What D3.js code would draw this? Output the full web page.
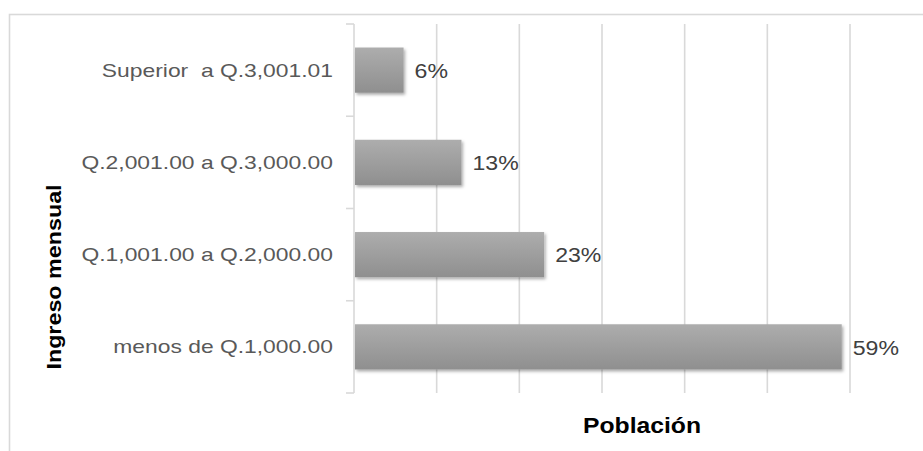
<!DOCTYPE html>
<html>
<head>
<meta charset="utf-8">
<script src="https://cdn.jsdelivr.net/npm/d3@7"></script>
<style>
  html, body { margin: 0; padding: 0; background: #ffffff; }
  svg { display: block; }
  text { font-family: "Liberation Sans", Arial, sans-serif; white-space: pre; }
</style>
</head>
<body>
<svg id="chart" width="923" height="451"></svg>
<script>
// Income brackets, top to bottom, and share of population in each
const categories = [
  "Superior  a Q.3,001.01",
  "Q.2,001.00 a Q.3,000.00",
  "Q.1,001.00 a Q.2,000.00",
  "menos de Q.1,000.00"
];
const values = [6, 13, 23, 59];
const gridTicks = [0, 10, 20, 30, 40, 50, 60];
const xTitle = "Población";
const yTitle = "Ingreso mensual";

const svg = d3.select("#chart");
const plot = { left: 354, right: 850, top: 24, bottom: 393 };

const x = d3.scaleLinear().domain([0, 60]).range([plot.left, plot.right]);
const y = d3.scaleBand().domain(categories).range([plot.top, plot.bottom]).paddingInner(0).paddingOuter(0);
const barThickness = y.bandwidth() * 0.49;

// Outer chart frame
svg.append("rect")
  .attr("x", 9.5).attr("y", 14.5)
  .attr("width", 1000).attr("height", 1000)
  .attr("fill", "none")
  .attr("stroke", "#d9d9d9")
  .attr("stroke-width", 1.6);

// Gradient and soft shadow for the bars
const defs = svg.append("defs");
const grad = defs.append("linearGradient")
  .attr("id", "barGrad").attr("x1", 0).attr("y1", 0).attr("x2", 0).attr("y2", 1);
grad.append("stop").attr("offset", "0%").attr("stop-color", "#adadad");
grad.append("stop").attr("offset", "100%").attr("stop-color", "#8f8f8f");

const shadow = defs.append("filter").attr("id", "barShadow")
  .attr("x", "-10%").attr("y", "-20%").attr("width", "130%").attr("height", "160%");
shadow.append("feDropShadow")
  .attr("dx", 1.5).attr("dy", 2).attr("stdDeviation", 1.6)
  .attr("flood-color", "#000").attr("flood-opacity", 0.33);

// Vertical gridlines (including the axis line at zero)
svg.append("g")
  .selectAll("line")
  .data(gridTicks)
  .join("line")
  .attr("x1", d => x(d)).attr("x2", d => x(d))
  .attr("y1", plot.top).attr("y2", plot.bottom)
  .attr("stroke", "#d9d9d9")
  .attr("stroke-width", 1.6);

// Category axis with tick marks at the band boundaries
const yAxis = d3.axisLeft(y).tickSize(0).tickFormat("");
const yAxisG = svg.append("g").attr("transform", `translate(${plot.left},0)`).call(yAxis);
yAxisG.select(".domain").remove();
const boundaries = categories.map(c => y(c)).concat([plot.bottom]);
svg.append("g")
  .selectAll("line")
  .data(boundaries)
  .join("line")
  .attr("x1", plot.left - 8).attr("x2", plot.left)
  .attr("y1", d => d).attr("y2", d => d)
  .attr("stroke", "#d9d9d9")
  .attr("stroke-width", 1.6);

// Category labels
svg.append("g")
  .selectAll("text")
  .data(categories)
  .join("text")
  .attr("transform", d => `translate(${plot.left - 21},${y(d) + y.bandwidth() / 2}) scale(1.27,1)`)
  .attr("dy", "0.36em")
  .attr("text-anchor", "end")
  .attr("font-size", 18)
  .attr("fill", "#595959")
  .text(d => d);

// Bars
svg.append("g")
  .selectAll("rect")
  .data(values)
  .join("rect")
  .attr("x", x(0) + 1)
  .attr("y", (d, i) => y(categories[i]) + (y.bandwidth() - barThickness) / 2)
  .attr("width", d => x(d) - x(0) - 1)
  .attr("height", barThickness)
  .attr("fill", "url(#barGrad)")
  .attr("filter", "url(#barShadow)");

// Value labels
svg.append("g")
  .selectAll("text")
  .data(values)
  .join("text")
  .attr("transform", (d, i) => `translate(${x(d) + 11},${y(categories[i]) + y.bandwidth() / 2}) scale(1.1,1)`)
  .attr("dy", "0.37em")
  .attr("font-size", 21)
  .attr("fill", "#404040")
  .text(d => d + "%");

// Axis titles
svg.append("text")
  .attr("transform", "translate(642,433) scale(1.15,1)")
  .attr("text-anchor", "middle")
  .attr("font-size", 21.5)
  .attr("font-weight", "bold")
  .attr("fill", "#000")
  .text(xTitle);

svg.append("text")
  .attr("transform", "translate(61,277) rotate(-90) scale(1.11,1)")
  .attr("text-anchor", "middle")
  .attr("font-size", 21)
  .attr("font-weight", "bold")
  .attr("fill", "#000")
  .text(yTitle);
</script>
</body>
</html>
